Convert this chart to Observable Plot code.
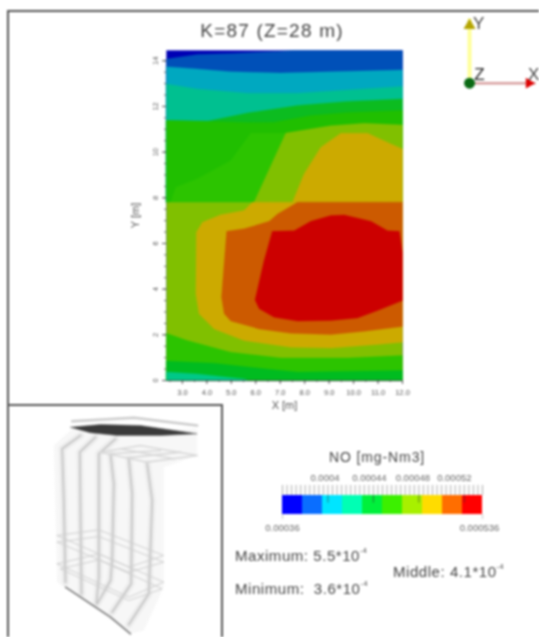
<!DOCTYPE html>
<html>
<head>
<meta charset="utf-8">
<script src="https://cdn.jsdelivr.net/npm/d3@7"></script>
<script src="https://cdn.jsdelivr.net/npm/@observablehq/plot@0.6"></script>
<style>
html,body{margin:0;padding:0;background:#fff;}
#page{position:relative;width:539px;height:637px;overflow:hidden;filter:blur(0.8px);font-family:"Liberation Sans",Arial,sans-serif;color:#444;}
#page svg{position:absolute;background:transparent;overflow:hidden;}
.t{position:absolute;white-space:pre;line-height:1;}
.t sup{font-size:7px;position:relative;top:-2px;vertical-align:super;line-height:0;}
.frame{position:absolute;box-sizing:border-box;}
</style>
</head>
<body>
<div id="page"></div>
<script>
// Contour plot: K=87 (Z=28 m). Every contour is a list of [X m, Y m].
const title = "K=87 (Z=28 m)";
const xTicks = [3,4,5,6,7,8,9,10,11,12];
const yTicks = [0,2,4,6,8,10,12,14];
const xMinor = [2.5,3,3.5,4,4.5,5,5.5,6,6.5,7,7.5,8,8.5,9,9.5,10,10.5,11,11.5,12];
const yMinor = [0,.5,1,1.5,2,2.5,3,3.5,4,4.5,5,5.5,6,6.5,7,7.5,8,8.5,9,9.5,10,10.5,11,11.5,12,12.5,13,13.5,14];

const panel = [[2.35,0],[2.35,14.45],[12,14.45],[12,0]];
const topBlue = [[2.35,14.08],[3.61,14.27],[4.98,14.32],[6.89,14.41],[7.5,14.45],[12,14.45],[12,7.8],[2.35,7.8]];
const topCyan = [[2.35,13.74],[3.61,13.64],[4.98,13.52],[7.02,13.46],[9.07,13.52],[12,13.6],[12,7.8],[2.35,7.8]];
const topTeal = [[2.35,12.98],[3.61,12.76],[5.66,12.58],[7.71,12.58],[9.75,12.72],[12,12.87],[12,7.8],[2.35,7.8]];
const topGreen1 = [[2.35,11.38],[4.02,11.35],[5.66,11.71],[7.71,12.04],[9.75,12.22],[12,12.33],[12,7.8],[2.35,7.8]];
const topGreen2 = [[2.35,11.38],[4.02,11.35],[5.66,11.3],[6.75,11.31],[8.25,11.6],[9.75,11.74],[12,11.82],[12,7.8],[2.35,7.8]];
const topGreen3 = [[2.52,7.8],[2.73,8.46],[3.61,8.83],[4.98,9.63],[5.8,10.84],[7.23,10.84],[7.23,7.8]];
const topLime = [[5.93,7.8],[7.23,10.84],[9.07,11.16],[10.44,11.26],[12,11.19],[12,7.8]];
const topOlive = [[7.5,7.8],[7.98,9.05],[8.66,10.21],[9.48,10.83],[10.57,10.83],[11.53,10.36],[12,10.14],[12,7.8]];
const lowLime = [[2.35,0],[2.35,7.8],[12,7.8],[12,0]];
const lowOlive = [[5.86,7.8],[5.52,7.44],[4.57,7.26],[3.82,6.93],[3.57,6.49],[3.55,3.79],[3.68,2.92],[4.3,2.26],[5.52,1.75],[7.43,1.46],[9.07,1.42],[10.98,1.58],[12,1.68],[12,7.8]];
const lowOrange = [[7.71,7.8],[6.89,7.29],[6.55,6.97],[5.52,6.64],[4.81,6.53],[4.6,3.65],[4.71,2.92],[4.98,2.6],[6.14,2.26],[7.43,2.07],[9.07,2.01],[10.44,2.16],[12,2.36],[12,7.8]];
const lowRed = [[6.68,6.53],[7.57,6.56],[8.25,6.97],[9.07,7.22],[9.62,7.25],[10.71,6.97],[11.39,6.56],[11.87,6.53],[12,5.6],[12,3.5],[10.98,3.06],[10.16,2.74],[9.07,2.63],[7.71,2.6],[6.75,2.77],[6.14,3.14],[5.97,3.53],[6.34,5.25]];
const lowGreen2 = [[2.35,2.07],[3.2,1.75],[4.98,1.24],[7.02,.99],[9.75,.99],[12,1.1],[12,0],[2.35,0]];
const lowGreen1 = [[2.35,.85],[4.3,.76],[6.34,.51],[7.71,.37],[12,.44],[12,0],[2.35,0]];
const lowTeal = [[2.35,.37],[3.61,.29],[5.52,.07],[5.7,0],[2.35,0]];

// Legend
const legendTitle = "NO [mg-Nm3]";
const legendColors = ["#0000ff","#0a6eff","#00e5ff","#00ffb4","#00f03c","#3cf000","#a8f000","#ffdc00","#ff6e00","#ff0000"];
const legendBreaks = [0.00036,0.0003776,0.0003952,0.0004128,0.0004304,0.000448,0.0004656,0.0004832,0.0005008,0.0005184,0.000536];
const legendMajor = [0.0004,0.00044,0.00048,0.00052];
const legendMajorText = ["0.0004","0.00044","0.00048","0.00052"];
const legendEnds = [0.00036,0.000536];
const legendEndText = ["0.00036","0.000536"];

// Axes triad
const triadOrigin = {x:0,y:0};
const triadTipY = {x:0,y:1};
const triadTipX = {x:1,y:0};

// Wireframe model, in arbitrary sketch units
const hull = [[160,135],[215,85],[590,85],[590,165],[490,200],[490,560],[430,690],[390,700],[170,545]];
const plateGhost = [[215,62],[400,52],[590,75]];
const plate = [[210,80],[300,72],[420,75],[590,100],[480,105],[350,105],[270,97]];
const tube1 = [[240,105],[185,145],[190,300],[195,545]];
const tube2 = [[285,110],[238,155],[240,350],[243,580]];
const tube3 = [[345,115],[295,160],[295,450],[295,530],[288,608]];
const tube4 = [[330,160],[340,250],[335,480],[330,540],[290,610]];
const tube5 = [[385,175],[395,280],[392,550],[335,635]];
const tube6 = [[440,190],[455,300],[445,580],[385,672]];
const gridA = [[300,155],[420,135],[590,165],[440,185],[300,155]];
const gridB = [[360,145],[520,175]];
const gridC = [[330,160],[480,150]];
const gridD = [[380,172],[540,155]];
const ringA = [[170,405],[295,388],[490,465],[385,500],[170,405]];
const ringB = [[170,425],[295,408],[490,485],[385,515],[170,425]];
const ringC = [[170,490],[295,460],[490,545],[385,590],[170,490]];
const ringD = [[180,505],[295,478],[485,565],[385,600],[180,505]];
const keel = [[195,560],[330,650],[390,700]];

const FONT = '"Liberation Sans",Arial,sans-serif';
const page = document.getElementById("page");
const place = (el,l,t)=>{el.style.left=l+"px";el.style.top=t+"px";page.appendChild(el);};
const poly = (arr,fill)=>Plot.line(arr,{x:d=>d[0],y:d=>d[1],fill,stroke:fill,strokeWidth:.3,curve:"linear-closed"});

const main = Plot.plot({
  width:539,height:637,marginLeft:166,marginRight:137,marginTop:50,marginBottom:257,
  style:{fontFamily:FONT,color:"#555",background:"transparent"},
  x:{domain:[2.35,12]},
  y:{domain:[0,14.45]},
  marks:[
    poly(panel,"#0000b4"),
    poly(topBlue,"#0050b8"),
    poly(topCyan,"#00a8c0"),
    poly(topTeal,"#00c090"),
    poly(topGreen1,"#0cbc20"),
    poly(topGreen2,"#20bf00"),
    poly(topGreen3,"#2cc400"),
    poly(topLime,"#80c000"),
    poly(topOlive,"#ccaa00"),
    poly(lowLime,"#80c000"),
    poly(lowOlive,"#ccaa00"),
    poly(lowOrange,"#cc5a00"),
    poly(lowRed,"#cc0000"),
    poly(lowGreen2,"#2cc400"),
    poly(lowGreen1,"#00bc20"),
    poly(lowTeal,"#00c888"),
    Plot.axisX(xMinor,{tickSize:2,tickFormat:()=>"",label:null,stroke:"#666"}),
    Plot.axisY(yMinor,{tickSize:2,tickFormat:()=>"",label:null,stroke:"#666"}),
    Plot.axisX(xTicks,{tickSize:4,tickPadding:5,fontSize:7.5,tickFormat:d3.format(".1f"),label:"X [m]",labelAnchor:"center",labelArrow:"none",labelOffset:28,stroke:"#555",fill:"#555"}),
    Plot.axisY(yTicks,{tickSize:4,tickPadding:5,fontSize:7.5,tickRotate:-90,tickFormat:d=>d,label:"Y [m]",labelAnchor:"center",labelArrow:"none",labelOffset:35,stroke:"#555",fill:"#555"}),
    Plot.ruleY([0],{stroke:"#444",strokeWidth:.7})
  ]
});
place(main,0,0);
main.querySelectorAll('g[aria-label="x-axis label"] text, g[aria-label="y-axis label"] text').forEach(t=>t.style.fontSize="11px");

// wireframe
const wire = (arr,stroke,strokeWidth,strokeOpacity=1)=>Plot.line(arr,{x:d=>d[0],y:d=>d[1],stroke,strokeWidth,strokeOpacity});
const tubes = [tube1,tube2,tube3,tube4,tube5,tube6];
const rings = [ringA,ringB,ringC,ringD];
const grids = [gridA,gridB,gridC,gridD];
const wf = Plot.plot({
  width:230,height:237,margin:0,
  style:{background:"transparent"},
  x:{domain:[0,690],axis:null},
  y:{domain:[711,0],axis:null},
  marks:[
    Plot.line(hull,{x:d=>d[0],y:d=>d[1],fill:"#f7f7f7",stroke:"none",curve:"linear-closed"}),
    ...tubes.map(t=>wire(t,"#ececec",7)),
    ...tubes.map(t=>wire(t,"#c6c6c6",1.8)),
    ...rings.map(r=>wire(r,"#d0d0d0",1)),
    ...grids.map(g=>wire(g,"#d8d8d8",1.6)),
    wire(plateGhost,"#cccccc",2.5),
    Plot.line(plate,{x:d=>d[0],y:d=>d[1],fill:"#3a3a3a",stroke:"#666",strokeWidth:.5,curve:"linear-closed"}),
    wire(keel,"#777",1.5)
  ]
});
place(wf,0,400);

// legend bar
const legendMinor = d3.range(45).map(i=>0.00036+i*0.000004);
const cells = legendColors.map((c,i)=>({c,a:legendBreaks[i],b:legendBreaks[i+1]}));
const lg = Plot.plot({
  width:300,height:70,marginLeft:52,marginRight:48,marginTop:0,marginBottom:0,
  style:{fontFamily:FONT,color:"#555",background:"transparent"},
  x:{domain:[0.00036,0.000536],axis:null},
  y:{domain:[-1.105,2.58],axis:null},
  marks:[
    Plot.ruleX(legendMinor,{y1:1,y2:1.53,stroke:"#999",strokeWidth:.8}),
    Plot.rectX(cells,{x1:"a",x2:"b",y1:0,y2:1,fill:"c"}),
    Plot.ruleX(legendMajor,{y1:.6,y2:1,stroke:"#333",strokeWidth:.8,strokeOpacity:.7}),
    Plot.ruleX(legendEnds,{y1:-.27,y2:0,stroke:"#bbb",strokeWidth:.8}),
    ...legendMajor.map((v,i)=>Plot.text([v],{x:d=>d,y:()=>1.9,text:()=>legendMajorText[i],fontSize:9.5,fill:"#666",dx:[-3,-4,-6,-10][i]})),
    Plot.text([legendEnds[0]],{x:d=>d,y:()=>-.72,text:()=>legendEndText[0],fontSize:9.5,fill:"#666"}),
    Plot.text([legendEnds[1]],{x:d=>d,y:()=>-.72,text:()=>legendEndText[1],fontSize:9.5,fill:"#666",dx:-3})
  ]
});
place(lg,230,465);

// triad
const triad = Plot.plot({
  width:99,height:100,margin:0,
  style:{fontFamily:FONT,background:"transparent"},
  x:{domain:[-.44,1.06],axis:null},
  y:{domain:[-.267,1.278],axis:null},
  marks:[
    Plot.link([0],{x1:()=>triadOrigin.x,y1:()=>triadOrigin.y,x2:()=>triadTipY.x,y2:()=>triadTipY.y,stroke:"#ffff99",strokeWidth:4}),
    Plot.link([0],{x1:()=>triadOrigin.x,y1:()=>triadOrigin.y,x2:()=>triadTipX.x,y2:()=>triadTipX.y,stroke:"#d8a0a0",strokeWidth:2.5}),
    Plot.dot([triadTipY],{x:"x",y:d=>d.y-.11,symbol:"triangle",r:4.5,fill:"#b4a400"}),
    Plot.dot([triadTipX],{x:d=>d.x-.1,y:"y",symbol:"triangle",r:4,fill:"#dd0000",rotate:90}),
    Plot.dot([triadOrigin],{x:"x",y:"y",r:5.5,fill:"#0a6a14"}),
    Plot.text(["Y"],{x:()=>.14,y:()=>.92,text:d=>d,fontSize:17,fill:"#444"}),
    Plot.text(["Z"],{x:()=>.15,y:()=>.13,text:d=>d,fontSize:17,fill:"#222"}),
    Plot.text(["X"],{x:()=>.97,y:()=>.13,text:d=>d,fontSize:17,fill:"#444"})
  ]
});
place(triad,440,0);

// frames
const frame = (l,t,w,h,sides)=>{const d=document.createElement("div");d.className="frame";
  d.style.width=w+"px";d.style.height=h+"px";
  sides.forEach(s=>d.style["border"+s]="2px solid #555");place(d,l,t);};
frame(7,10,532,396,["Top","Left"]);
frame(7,404,216,240,["Top","Left","Right"]);

// texts
const addText=(html,l,t,size)=>{const d=document.createElement("div");d.className="t";d.innerHTML=html;d.style.fontSize=size+"px";place(d,l,t);return d;};
const centered=(html,cx,t,size,ls)=>{const d=addText(html,cx,t,size);d.style.transform="translateX(-50%)";d.style.letterSpacing=ls+"px";};
centered(title,272,21,19,1.2);
centered(legendTitle,377,450,14,.9);
[['Maximum: 5.5*10<sup>-4</sup>',235,548],['Minimum:  3.6*10<sup>-4</sup>',235,581],['Middle: 4.1*10<sup>-4</sup>',393,564]]
  .forEach(([h,l,t])=>{addText(h,l,t,15).style.letterSpacing=".55px";});
</script>
</body>
</html>
